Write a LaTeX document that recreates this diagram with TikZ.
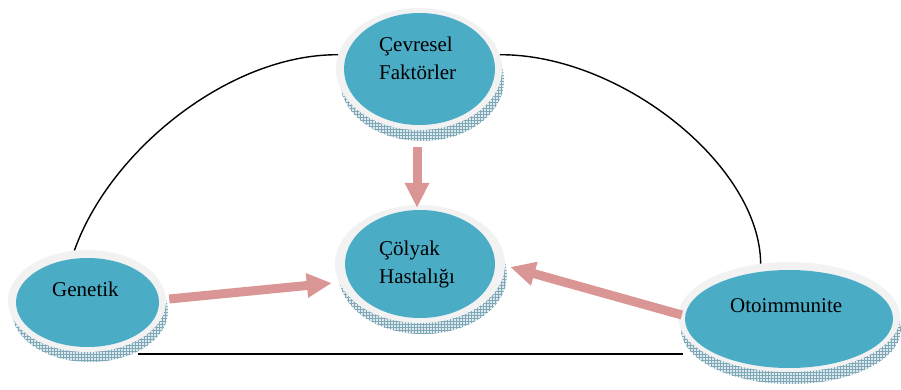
\documentclass[tikz,border=0pt]{standalone}
\usepackage{fontspec}
\setmainfont{Liberation Serif}
\usetikzlibrary{shapes.geometric,arrows.meta,patterns}
\definecolor{facecol}{HTML}{4BACC6}
\definecolor{ringcol}{HTML}{F2F2F2}
\definecolor{pinkarrow}{HTML}{D99694}
\definecolor{sidefill}{HTML}{DCEAEF}
\definecolor{sideline}{HTML}{7FA7B5}
\begin{document}
\begin{tikzpicture}[x=1pt,y=-1pt,
  ringstyle/.style={ellipse, fill=ringcol, inner sep=0pt, draw=none},
  facestyle/.style={ellipse, fill=facecol, inner sep=0pt, draw=none},
  sidestyle/.style={ellipse, fill=sidefill, inner sep=0pt, draw=none,
     postaction={pattern=grid, pattern color=sideline}},
  lbl/.style={anchor=base west, font=\fontsize{21}{28}\selectfont, inner sep=0pt},
  link/.style={line width=1.4pt, black},
  bigarrow/.style={pinkarrow, line width=9pt, -{Triangle[width=23pt,length=25pt]}}]
\useasboundingbox (0,0) rectangle (901,390);
% Cevresel Faktorler
\node[sidestyle, minimum width=164pt, minimum height=122pt] (cevS) at (422,80) {};
\node[ringstyle, minimum width=166pt, minimum height=122pt] (cevR) at (419,69) {};
\node[facestyle, minimum width=151pt, minimum height=112pt] (cev) at (419.5,69) {};
% Colyak Hastaligi
\node[sidestyle, minimum width=168pt, minimum height=118pt] (colS) at (423,275) {};
\node[ringstyle, minimum width=170pt, minimum height=118pt] (colR) at (420,264) {};
\node[facestyle, minimum width=150pt, minimum height=108pt] (col) at (420,264) {};
% Genetik
\node[sidestyle, minimum width=156pt, minimum height=102pt] (genS) at (90,311) {};
\node[ringstyle, minimum width=158pt, minimum height=102pt] (genR) at (87,301) {};
\node[facestyle, minimum width=143pt, minimum height=89pt] (gen) at (87.5,302.5) {};
% Otoimmunite
\node[sidestyle, minimum width=220pt, minimum height=110pt] (otoS) at (791,329) {};
\node[ringstyle, minimum width=222pt, minimum height=110pt] (otoR) at (789,317) {};
\node[facestyle, minimum width=208pt, minimum height=98pt] (oto) at (789,319) {};
% labels
\node[lbl] (cevT1) at (379,52) {Çevresel};
\node[lbl] (cevT2) at (379,80) {Faktörler};
\node[lbl] (colT1) at (379,255) {Çölyak};
\node[lbl] (colT2) at (379,283) {Hastalığı};
\node[lbl] (genT) at (52,296) {Genetik};
\node[lbl] (otoT) at (730,312) {Otoimmunite};
% links
\coordinate (b1) at (138,354);
\coordinate (b2) at (683,354);
\draw[link] (genR.104) .. controls (110,150) and (230,54) .. (cevR.170);
\draw[link] (cevR.10) .. controls (620,54) and (760,165) .. (otoR.118);
\draw[line width=2pt] (b1) -- (b2);
% arrows
\draw[bigarrow] ([shift={(3,-2)}]genR.east) -- ([shift={(-5.6,4.5)}]colR.190);
\draw[bigarrow] ([shift={(-2,17)}]cevR.south) -- ([shift={(-3,3)}]colR.north);
\draw[bigarrow] ([shift={(4,-2)}]otoR.west) -- ([shift={(5,3)}]colR.east);
\end{tikzpicture}
\end{document}
